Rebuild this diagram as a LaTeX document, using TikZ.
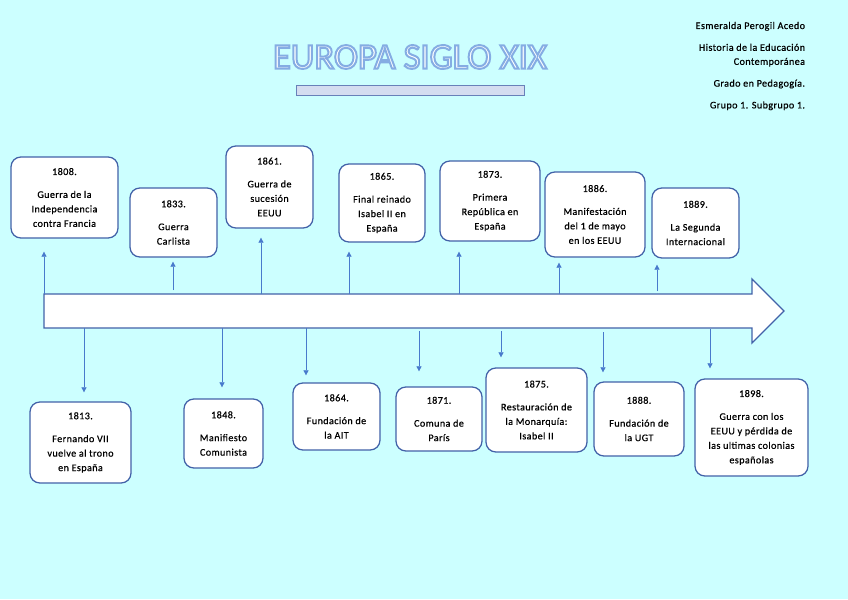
\documentclass[tikz,border=0pt]{standalone}
\usepackage{fontspec}
\setmainfont{Carlito}[FakeBold=0.6, LetterSpace=4]
\newfontfamily\titlefont{Carlito}
\usepackage{xcolor}
\usepackage{tikz}
\usetikzlibrary{positioning, arrows.meta, calc}
\definecolor{fondo}{RGB}{204,255,255}
\definecolor{borde}{RGB}{66,98,168}
\definecolor{flecha}{RGB}{72,122,204}
\definecolor{barra}{RGB}{212,221,240}
\newcommand{\perfil}[1]{\special{pdf:code 2 Tr 1.4 w 0.52 0.68 0.89 RG}#1\special{pdf:code 0 Tr}}

\begin{document}
\begin{tikzpicture}[x=0.25mm, y=-0.25mm,
      box/.style 2 args={draw=borde, line width=0.9pt, fill=white, rounded corners=7pt,
        minimum width=#1mm, minimum height=#2mm, align=center,
        font=\fontsize{7.2}{10.3}\selectfont, inner sep=1pt},
      conn/.style={draw=flecha, line width=0.5pt, -{Triangle[length=3.6pt,width=3.6pt]}},
      autor/.style={font=\fontsize{7.2}{10}\selectfont, align=right, anchor=north east}
  ]
  \useasboundingbox[fill=fondo] (0,0) rectangle (848,599);

  % titulo
  \node[text=white] (titulo) at (410,57) {\titlefont\fontsize{26}{26}\selectfont\perfil{EUROPA SIGLO XIX}};
  \node[draw=borde!80, fill=barra, line width=0.6pt, minimum width=57mm, minimum height=2.5mm, inner sep=0pt] (barra) at (410,90) {};

  \node[autor] (autor) at (810,17) {Esmeralda Perogil Acedo\\[5.5pt]
    Historia de la Educación\\Contemporánea\\[5.5pt]
    Grado en Pedagogía.\\[5.5pt]
    Grupo 1. Subgrupo 1.};

  % eje
  \draw[draw=borde, line width=0.9pt, fill=white]
    (44,294) -- (752,294) -- (752,279) -- (784,311) -- (752,343) -- (752,328) -- (44,328) -- cycle;

  % arriba
  \node[box={26.75}{20.25}] (y1808) at (64.5,197.5) {1808.\\[6pt]Guerra de la\\Independencia\\contra Francia};
  \node[box={21.75}{17.25}] (y1833) at (173.5,222.5) {1833.\\[6pt]Guerra\\Carlista};
  \node[box={21.75}{20.5}] (y1861) at (269.5,187) {1861.\\[6pt]Guerra de\\sucesión\\EEUU};
  \node[box={21.5}{19.5}] (y1865) at (382,203) {1865.\\[6pt]Final reinado\\Isabel II en\\España};
  \node[box={25}{20}] (y1873) at (490,201) {1873.\\[6pt]Primera\\República en\\España};
  \node[box={25}{21.25}] (y1886) at (595,214.5) {1886.\\[6pt]Manifestación\\del 1 de mayo\\en los EEUU};
  \node[box={21.75}{17.5}] (y1889) at (695.5,223) {1889.\\[6pt]La Segunda\\Internacional};

  % abajo
  \node[box={25.25}{20.25}] (y1813) at (80.5,442.5) {1813.\\[6pt]Fernando VII\\vuelve al trono\\en España};
  \node[box={19.75}{17.25}] (y1848) at (223.5,433.5) {1848.\\[6pt]Manifiesto\\Comunista};
  \node[box={21.75}{16.75}] (y1864) at (336.5,416.5) {1864.\\[6pt]Fundación de\\la AIT};
  \node[box={21.5}{16}] (y1871) at (439,419) {1871.\\[6pt]Comuna de\\París};
  \node[box={25.25}{21}] (y1875) at (536.5,410) {1875.\\[6pt]Restauración de\\la Monarquía:\\Isabel II};
  \node[box={22.5}{18.5}] (y1888) at (639,419) {1888.\\[6pt]Fundación de\\la UGT};
  \node[box={28.25}{24.25}] (y1898) at (751.5,427.5) {1898.\\[6pt]Guerra con los\\EEUU y pérdida de\\las ultimas colonias\\españolas};

  % puntos del eje
  \coordinate (u1808) at (44,294);
  \coordinate (u1833) at (173,290);
  \coordinate (u1861) at (261,294);
  \coordinate (u1865) at (349,294);
  \coordinate (u1873) at (459,294);
  \coordinate (u1886) at (559,294);
  \coordinate (u1889) at (657,291);
  \coordinate (d1813) at (84,328);
  \coordinate (d1848) at (222,328);
  \coordinate (d1864) at (306,328);
  \coordinate (d1871) at (419,331);
  \coordinate (d1875) at (501,331);
  \coordinate (d1888) at (603,332);
  \coordinate (d1898) at (710,329);

  \draw[conn, shorten >=3.25mm] (u1808) -- (u1808 |- y1808.south);
  \draw[conn, shorten >=1mm] (u1833) -- (u1833 |- y1833.south);
  \draw[conn, shorten >=2.25mm] (u1861) -- (u1861 |- y1861.south);
  \draw[conn, shorten >=2.25mm] (u1865) -- (u1865 |- y1865.south);
  \draw[conn, shorten >=2.5mm] (u1873) -- (u1873 |- y1873.south);
  \draw[conn, shorten >=1.25mm] (u1886) -- (u1886 |- y1886.south);
  \draw[conn, shorten >=1.5mm] (u1889) -- (u1889 |- y1889.south);

  \draw[conn, shorten >=2.25mm] (d1813) -- (d1813 |- y1813.north);
  \draw[conn, shorten >=2.75mm] (d1848) -- (d1848 |- y1848.north);
  \draw[conn, shorten >=1.75mm] (d1864) -- (d1864 |- y1864.north);
  \draw[conn, shorten >=3.75mm] (d1871) -- (d1871 |- y1871.north);
  \draw[conn, shorten >=2.5mm] (d1875) -- (d1875 |- y1875.north);
  \draw[conn, shorten >=2.25mm] (d1888) -- (d1888 |- y1888.north);
  \draw[conn, shorten >=2.5mm] (d1898) -- (d1898 |- y1898.north);
\end{tikzpicture}
\end{document}
